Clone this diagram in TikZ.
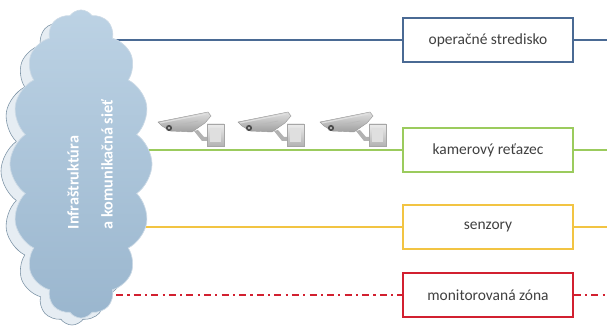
\documentclass[tikz,border=0pt]{standalone}
\usepackage{fontspec}
\setmainfont{Carlito}
\usetikzlibrary{positioning, shapes.symbols, shadows, backgrounds}

\definecolor{opsblue}{HTML}{4A6A94}
\definecolor{camgreen}{HTML}{9BCB5D}
\definecolor{sensyellow}{HTML}{F2C443}
\definecolor{zonered}{HTML}{D22030}
\definecolor{cloudtop}{HTML}{BCD2E4}
\definecolor{cloudbot}{HTML}{9AB6CE}

\begin{document}
\begin{tikzpicture}[
         x=0.025cm, y=0.025cm,
         layer/.style={draw=#1, line width=1pt, fill=white, minimum width=4.25cm,
            minimum height=1.1cm, font=\fontsize{11}{13}\selectfont, text=black!75,
            drop shadow={opacity=0.18, shadow xshift=0.8pt, shadow yshift=-0.8pt}},
         link/.style={draw=#1, line width=1.1pt},
         netcloud/.style={cloud, cloud puffs=16, cloud puff arc=110, cloud ignores aspect,
            minimum width=3.55cm, minimum height=7.7cm, inner sep=0pt},
         cloudtext/.style={rotate=90, anchor=west, text=white,
            font=\bfseries\fontsize{11.5}{13}\selectfont},
         camera/.pic={
            % arm and wall plate
            \fill[gray!60] (36,-9) -- (44,-19) -- (50,-19) -- (50,-15) -- (46,-15) -- (40,-8) -- cycle;
            \shade[top color=gray!15, bottom color=gray!60, draw=gray!70, line width=0.3pt]
               (49,-24) rectangle (66,-2);
            \fill[gray!25] (52,-20) rectangle (63,-6);
            % body with hood
            \shade[top color=gray!25, bottom color=gray!75, draw=gray!80, line width=0.3pt]
               (0,0) -- (50,10) -- (53,6) -- (47,-1) -- (34,-10) -- (12,-9) -- (4,-4) -- cycle;
            \draw[white!75!gray, line width=0.8pt] (2,-1) -- (48,8);
            \draw[gray!55, line width=0.5pt] (16,-4) -- (40,1);
            % lens
            \fill[black!70] (11,-6) circle (2.2pt);
            \fill[gray!30] (11,-6) circle (0.8pt);
         }
      ]
         \useasboundingbox (0,0) rectangle (607,330);

         % Nodes for the cloud (back copy gives the depth)
         \node[netcloud, fill=cloudbot!25, draw=cloudbot!80!black, line width=0.4pt] (cloudback) at (72,159) {};
         \node[netcloud, top color=cloudtop, bottom color=cloudbot, draw=white!50!cloudbot, line width=0.5pt] (cloud) at (81,166) {};
         \node[cloudtext] (infra) at (73,96) {Infraštruktúra};
         \node[cloudtext] (net) at (107,96) {a komunikačná sieť};

         % Nodes for the layers
         \node[layer=opsblue] (ops) at (488,290) {operačné stredisko};
         \node[layer=camgreen] (cams) at (488,180) {kamerový reťazec};
         \node[layer=sensyellow] (sens) at (488,103) {senzory};
         \node[layer=zonered] (zone) at (488,35) {monitorovaná zóna};

         \coordinate (opsend) at (607,290);
         \coordinate (camsend) at (607,180);
         \coordinate (sensend) at (607,103);
         \coordinate (zoneend) at (607,35);

         % Lines from the cloud through the layers
         \begin{scope}[on background layer]
            \draw[link=opsblue] (cloud.center |- ops.west) -- (ops.west);
            \draw[link=camgreen] (cloud.center |- cams.west) -- (cams.west);
            \draw[link=sensyellow] (cloud.center |- sens.west) -- (sens.west);
            \draw[link=zonered, dash pattern=on 5pt off 3pt on 1.5pt off 3pt] (cloud.center |- zone.west) -- (zone.west);
         \end{scope}
         \draw[link=opsblue] (ops.east) -- (opsend);
         \draw[link=camgreen] (cams.east) -- (camsend);
         \draw[link=sensyellow] (sens.east) -- (sensend);
         \draw[link=zonered, dash pattern=on 5pt off 3pt on 1.5pt off 3pt] (zone.east) -- (zoneend);

         % Cameras above the green line
         \foreach \cx in {158,238,320}
            \pic at (\cx,208) {camera};
      \end{tikzpicture}
\end{document}
